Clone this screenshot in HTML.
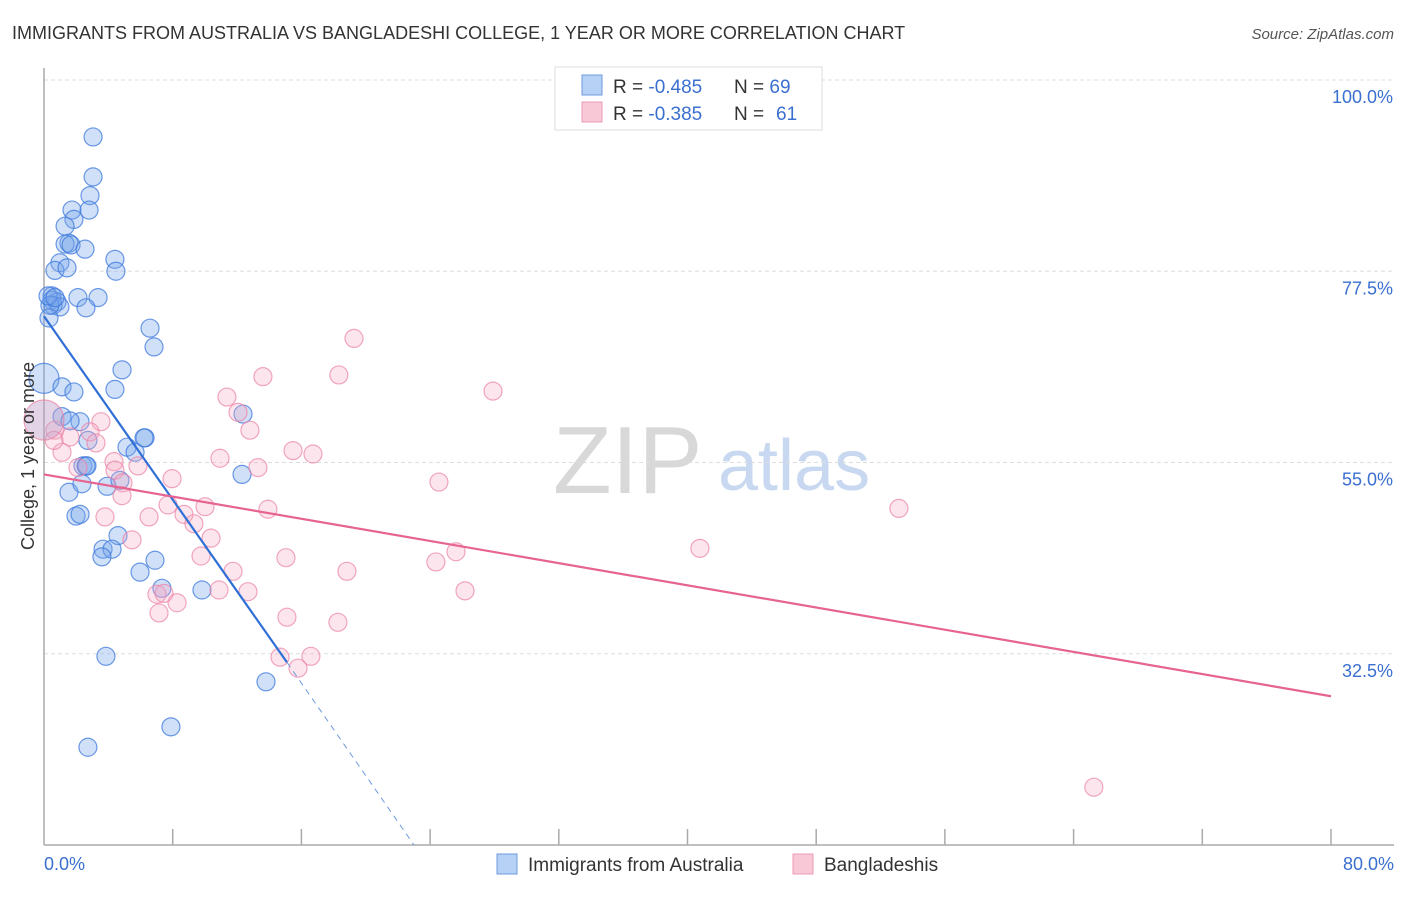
<!DOCTYPE html>
<html><head><meta charset="utf-8"><style>
body{margin:0;background:#fff;font-family:"Liberation Sans",sans-serif;}
svg text{font-family:"Liberation Sans",sans-serif;}
</style></head><body>
<svg id="chart" width="1406" height="892" viewBox="0 0 1406 892" xmlns="http://www.w3.org/2000/svg">
<text x="12" y="39" font-size="18" fill="#333">IMMIGRANTS FROM AUSTRALIA VS BANGLADESHI COLLEGE, 1 YEAR OR MORE CORRELATION CHART</text>
<text x="1394" y="39" font-size="15" fill="#555" font-style="italic" text-anchor="end">Source: ZipAtlas.com</text>
<g>
<text x="553" y="493" font-size="96" fill="#d8d8d8" font-family="Liberation Serif, serif">ZIP</text>
<text x="718" y="490" font-size="72" fill="#c8d8f0">atlas</text>
</g>
<g id="grid"></g>
<g id="axes"></g>
<g id="pts"></g>
<g id="trends"></g>
<text transform="translate(34,456) rotate(-90)" font-size="18" fill="#333" text-anchor="middle">College, 1 year or more</text>
<text x="44" y="870" font-size="18" fill="#3a6fd0">0.0%</text>
<text x="1394" y="870" font-size="18" fill="#3a6fd0" text-anchor="end">80.0%</text>
<g>
<rect x="555" y="67" width="267" height="63" fill="#fff" stroke="#ddd"/>
<rect x="582" y="75" width="20" height="20" fill="#b7d0f5" stroke="#6d9be0"/>
<rect x="582" y="102" width="20" height="20" fill="#f9c8d6" stroke="#ec9ab2"/>
<text x="613" y="93" font-size="19" fill="#333">R = <tspan fill="#3a6fd0">-0.485</tspan><tspan x="734">N = </tspan><tspan fill="#3a6fd0">69</tspan></text>
<text x="613" y="120" font-size="19" fill="#333">R = <tspan fill="#3a6fd0">-0.385</tspan><tspan x="734">N = </tspan><tspan fill="#3a6fd0" x="776">61</tspan></text>
</g>
<g>
<rect x="497" y="854" width="20" height="20" fill="#b7d0f5" stroke="#6d9be0"/>
<text x="528" y="871" font-size="19" fill="#333">Immigrants from Australia</text>
<rect x="793" y="854" width="20" height="20" fill="#f9c8d6" stroke="#ec9ab2"/>
<text x="824" y="871" font-size="19" fill="#333">Bangladeshis</text>
</g>
</svg>
<script>
const yTicks=[100,77.5,55,32.5];
const yTickLabels=["100.0%","77.5%","55.0%","32.5%"];
const xTicks=[8,16,24,32,40,48,56,64,72,80];
const blueX=[3.05,3.05,2.86,1.74,2.80,1.86,1.31,1.55,1.31,1.68,2.55,4.41,0.99,4.47,0.68,1.43,0.50,0.50,0.81,0.56,0.99,2.11,3.36,2.61,0.31,6.59,6.84,4.85,0,4.41,1.12,1.86,1.12,2.24,2.73,5.16,6.28,6.22,5.66,12.37,12.31,2.42,2.61,3.92,4.72,1.55,2.36,1.99,2.24,4.60,3.67,4.23,3.60,6.90,5.97,7.33,9.82,3.85,13.80,7.89,2.73,2.67,0.37,0.25,0.68,1.62];
const blueY=[93.3,88.6,86.4,84.7,84.7,83.6,82.8,80.8,80.7,80.6,80.1,78.9,78.5,77.5,77.6,77.9,74.6,74.1,73.9,73.5,73.3,74.4,74.4,73.2,72.0,70.8,68.6,65.9,64.9,63.6,63.9,63.3,60.4,59.8,57.6,56.8,57.9,57.9,56.2,60.7,53.6,54.6,54.6,52.2,52.9,51.5,52.5,48.7,48.9,46.4,44.8,44.8,43.9,43.5,42.1,40.2,40.0,32.2,29.2,23.9,21.5,54.6,73.5,74.6,74.4,59.9];
const blueSize=[9,9,9,9,9,9,9,9,9,9,9,9,9,9,9,9,9,9,9,9,9,9,9,9,9,9,9,9,15,9,9,9,9,9,9,9,9,9,9,9,9,9,9,9,9,9,9,9,9,9,9,9,9,9,9,9,9,9,9,9,9,9,9,9,9,9];
const pinkX=[19.27,13.61,18.33,27.91,11.37,12.06,3.54,12.80,0.68,1.62,2.86,3.23,1.12,15.48,16.72,10.94,4.35,2.11,5.84,13.30,4.41,4.91,7.96,24.55,4.85,7.71,10.01,13.92,8.70,53.14,6.53,3.79,9.32,10.38,5.47,25.61,40.77,9.76,15.04,24.36,11.75,18.83,7.02,7.46,10.88,12.68,26.17,8.27,7.15,15.10,18.27,14.67,16.59,15.79,65.26,0.62,0];
const pinkY=[69.6,65.1,65.3,63.4,62.7,60.9,59.8,58.8,58.8,58.0,58.6,57.3,56.2,56.4,56.0,55.5,55.1,54.4,54.6,54.4,54.1,52.6,53.1,52.7,51.1,50.0,49.8,49.5,48.9,49.6,48.6,48.6,47.8,46.1,45.9,44.5,44.9,44.0,43.8,43.3,42.2,42.2,39.5,39.6,40.0,39.8,39.9,38.5,37.3,36.8,36.2,32.1,32.2,30.8,16.8,57.6,60.0];
const pinkSize=[9,9,9,9,9,9,9,9,9,9,9,9,9,9,9,9,9,9,9,9,9,9,9,9,9,9,9,9,9,9,9,9,9,9,9,9,9,9,9,9,9,9,9,9,9,9,9,9,9,9,9,9,9,9,9,9,20];
const blueTrend=[[0,72.2],[15.1,31.5]];
const blueTrendExt=[[15.1,31.5],[23.0,10]];
const pinkTrend=[[0,53.6],[80,27.5]];

const NS="http://www.w3.org/2000/svg";
const X0=44,X1=1331,Y0=845;
function xs(v){return X0+(v/80)*(X1-X0);}
function ys(v){return 80+(100-v)*8.5;}
function mk(tag,attrs,parent){const e=document.createElementNS(NS,tag);for(const k in attrs)e.setAttribute(k,attrs[k]);parent.appendChild(e);return e;}
const grid=document.getElementById('grid'),axes=document.getElementById('axes'),pts=document.getElementById('pts'),tr=document.getElementById('trends');
yTicks.forEach((t,i)=>{
 const l=mk('line',{x1:X0,x2:1394,y1:ys(t),y2:ys(t),stroke:'#ddd','stroke-dasharray':'4,3'},grid);
 
 
 const tx=mk('text',{x:1393,y:ys(t)+23,'font-size':18,fill:'#3a6fd0','text-anchor':'end'},grid);
 tx.textContent=yTickLabels[i];
 
 
});
const ya=mk('line',{x1:X0,x2:X0,y1:68,y2:Y0,stroke:'#aaa','stroke-width':1.5},axes);


const xa=mk('line',{x1:X0,x2:1394,y1:Y0,y2:Y0,stroke:'#aaa','stroke-width':1.5},axes);


xTicks.forEach(t=>{
 const l=mk('line',{x1:xs(t),x2:xs(t),y1:Y0,y2:Y0-16,stroke:'#aaa','stroke-width':1.5},axes);
 
 
});
blueX.forEach((v,i)=>{
 const c=mk('circle',{cx:xs(v),cy:ys(blueY[i]),r:blueSize[i],fill:'rgba(120,165,235,0.35)',stroke:'rgba(60,120,220,0.75)','stroke-width':1.2},pts);
 
 
});
pinkX.forEach((v,i)=>{
 const c=mk('circle',{cx:xs(v),cy:ys(pinkY[i]),r:pinkSize[i],fill:pinkSize[i]>12?'rgba(190,160,200,0.45)':'rgba(245,170,195,0.3)',stroke:'rgba(235,130,165,0.7)','stroke-width':1.2},pts);
 
 
});
const bl=mk('line',{x1:xs(blueTrend[0][0]),y1:ys(blueTrend[0][1]),x2:xs(blueTrend[1][0]),y2:ys(blueTrend[1][1]),stroke:'#2f6fd6','stroke-width':2.2},tr);


const bd=mk('line',{x1:xs(blueTrendExt[0][0]),y1:ys(blueTrendExt[0][1]),x2:xs(blueTrendExt[1][0]),y2:ys(blueTrendExt[1][1]),stroke:'#6d9be0','stroke-width':1,'stroke-dasharray':'6,5'},tr);


const pl=mk('line',{x1:xs(pinkTrend[0][0]),y1:ys(pinkTrend[0][1]),x2:xs(pinkTrend[1][0]),y2:ys(pinkTrend[1][1]),stroke:'#e6648f','stroke-width':2.2},tr);


</script>
</body></html>
